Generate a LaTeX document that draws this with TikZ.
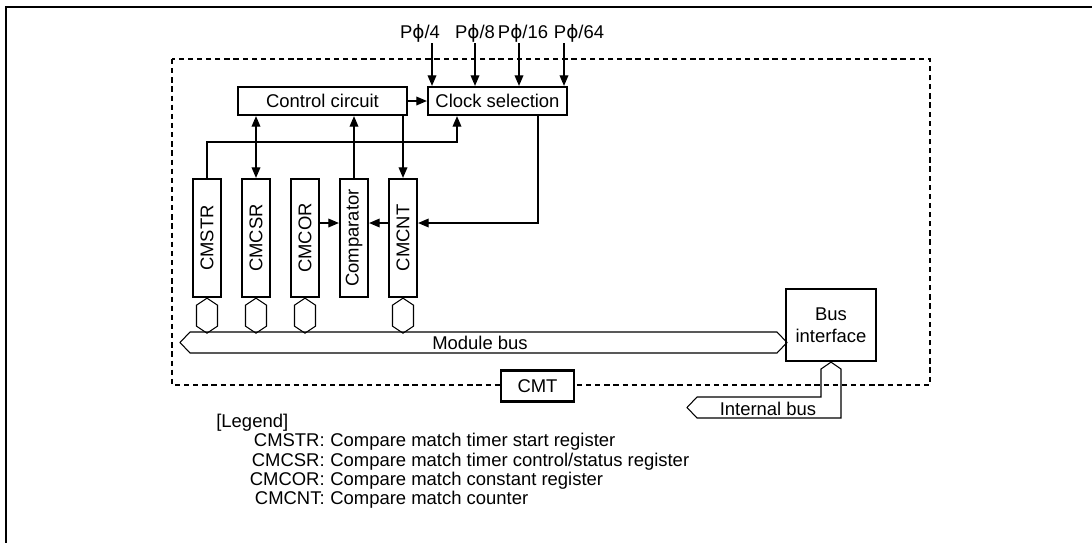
\documentclass[tikz,border=0pt]{standalone}
\usepackage{fontspec}
\setmainfont{Liberation Sans}
\newfontfamily\phifont{DejaVu Sans}
\usetikzlibrary{arrows.meta}

\begin{document}
\begin{tikzpicture}[x=0.02cm, y=-0.02cm,
      font=\fontsize{10.5}{12.6}\selectfont,
      box/.style={rectangle, draw, line width=1.3pt, inner sep=0pt, fill=white},
      regbox/.style={box, minimum width=0.56cm, minimum height=2.36cm},
      arr/.style={-{Triangle[length=6pt,width=5pt]}, line width=0.6pt},
      arrboth/.style={{Triangle[length=6pt,width=5pt]}-{Triangle[length=6pt,width=5pt]}, line width=0.6pt},
      buspath/.style={draw, line width=0.6pt}]
    \useasboundingbox (0,0) rectangle (1092,542);
    % outer frame and module boundary
    \draw[line width=1.4pt] (6,545) -- (6,7) -- (1095,7);
    \draw[line width=0.6pt, dash pattern=on 3pt off 2.2pt] (172,59) rectangle (930,385);

    % blocks
    \node[box, minimum width=3.38cm, minimum height=0.56cm] (ctrl) at (322.5,101) {Control circuit};
    \node[box, minimum width=2.78cm, minimum height=0.56cm] (clk) at (497.5,101) {Clock selection};
    \node[regbox] (cmstr) at (207,238) {\rotatebox{90}{CMSTR}};
    \node[regbox] (cmcsr) at (256,238) {\rotatebox{90}{CMCSR}};
    \node[regbox] (cmcor) at (305,238) {\rotatebox{90}{CMCOR}};
    \node[regbox] (comp) at (354,238) {\rotatebox{90}{Comparator}};
    \node[regbox] (cmcnt) at (403,238) {\rotatebox{90}{CMCNT}};
    \node[box, minimum width=1.8cm, minimum height=1.44cm, align=center] (busif) at (831,325) {Bus\\interface};
    \node[box, minimum width=1.46cm, minimum height=0.62cm] (cmt) at (537.5,386) {CMT};

    % clock inputs
    \foreach \x/\lx/\d in {432/420/4, 475/475/8, 519/523/16, 564/579/64} {
      \node[inner sep=0pt, anchor=base] (p\d) at (\lx,38) {P{\phifont ϕ}/\d};
      \coordinate (in\d) at (\x,43);
      \draw[arr] (in\d) -- (in\d |- clk.north);
    }
    \draw[arr] (ctrl) -- (clk);

    % control lines
    \coordinate (clkin) at (457,142);
    \coordinate (clkout) at (538,223);
    \draw[arrboth] (cmcsr.north |- ctrl.south) -- (cmcsr.north);
    \draw[arr] (comp.north) -- (comp.north |- ctrl.south);
    \draw[arr] (cmcnt.north |- ctrl.south) -- (cmcnt.north);
    \draw[arr] (cmstr.north) |- (clkin) -- (clkin |- clk.south);
    \draw[arr] (clkout |- clk.south) -- (clkout) -- (cmcnt.east |- clkout);
    \draw[arr] (cmcor.east |- clkout) -- (comp.west |- clkout);
    \draw[arr] (cmcnt.west |- clkout) -- (comp.east |- clkout);

    % bus taps
    \foreach \r in {cmstr,cmcsr,cmcor,cmcnt}
      \draw[buspath] (\r.south) -- ++(10.5,7) -- ++(0,21) -- ++(-10.5,7)
        -- ++(-10.5,-7) -- ++(0,-21) -- cycle;

    % module bus
    \draw[buspath] (180,342.5) -- (190,332) -- (777,332) -- (787,342.5)
      -- (777,353) -- (190,353) -- cycle;
    \node (mbus) at (480,342.5) {Module bus};

    % internal bus
    \draw[buspath] (busif.south) -- (841,369) -- (841,418) -- (697,418)
      -- (687,407.5) -- (697,397) -- (821,397) -- (821,369) -- cycle;
    \node (ibus) at (768,409) {Internal bus};

    % legend
    \node[anchor=base west, inner sep=0pt] (leg) at (216,427) {[Legend]};
    \foreach \n/\t/\y in {CMSTR/{Compare match timer start register}/446,
                          CMCSR/{Compare match timer control/status register}/466,
                          CMCOR/{Compare match constant register}/485,
                          CMCNT/{Compare match counter}/504} {
      \node[anchor=base east, inner sep=0pt] (k\n) at (325,\y) {\n:};
      \node[anchor=base west, inner sep=0pt] (d\n) at (330,\y) {\t};
    }
  \end{tikzpicture}
\end{document}
